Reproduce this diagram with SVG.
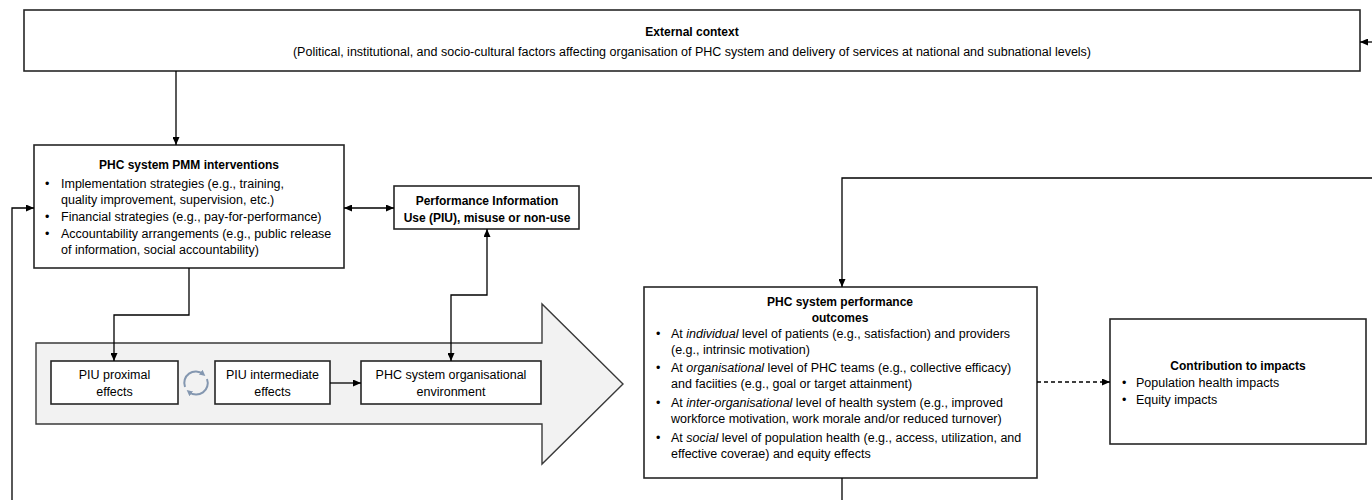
<svg xmlns="http://www.w3.org/2000/svg" width="1372" height="500" viewBox="0 0 1372 500">
<defs>
<style>
.box{fill:#fff;stroke:#262626;stroke-width:1.6}
.t{font-family:"Liberation Sans",Arial,sans-serif;font-size:12.5px;fill:#000}
.b{font-family:"Liberation Sans",Arial,sans-serif;font-size:12px;font-weight:bold;fill:#000}
.c{text-anchor:middle}
.ln{fill:none;stroke:#000;stroke-width:1.3}
.dash{stroke-dasharray:4,3}
.cyc{fill:none;stroke:#8497b0;stroke-width:2}
</style>
<marker id="ah" viewBox="0 0 8 7" markerWidth="8" markerHeight="7" refX="8" refY="3.5" orient="auto-start-reverse" markerUnits="userSpaceOnUse">
<path d="M0,0 L8,3.5 L0,7 z" fill="#000"/>
</marker>
<marker id="ch" viewBox="0 0 6 6" markerWidth="6" markerHeight="6" refX="3" refY="3" orient="auto" markerUnits="userSpaceOnUse">
<path d="M0,0 L6,3 L0,6 z" fill="#8497b0"/>
</marker>
</defs>

<g id="external-context">
<rect class="box" x="24" y="10" width="1336" height="61"/>
<text class="b c" x="692" y="36">External context</text>
<text class="t c" x="692" y="56">(Political, institutional, and socio-cultural factors affecting organisation of PHC system and delivery of services at national and subnational levels)</text>
</g>

<g id="pmm-interventions">
<rect class="box" x="34" y="145" width="310" height="123"/>
<text class="b c" x="189" y="168.5">PHC system PMM interventions</text>
<text class="t" x="45" y="187.5">•</text><text class="t" x="61" y="187.5">Implementation strategies (e.g., training,</text>
<text class="t" x="61" y="204">quality improvement, supervision, etc.)</text>
<text class="t" x="45" y="221">•</text><text class="t" x="61" y="221">Financial strategies (e.g., pay-for-performance)</text>
<text class="t" x="45" y="237.5">•</text><text class="t" x="61" y="237.5">Accountability arrangements (e.g., public release</text>
<text class="t" x="61" y="254">of information, social accountability)</text>
</g>

<g id="performance-information-use">
<rect class="box" x="394" y="186" width="185" height="43"/>
<text class="b c" x="487" y="204.5">Performance Information</text>
<text class="b c" x="487" y="221.5">Use (PIU), misuse or non-use</text>
</g>

<g id="big-arrow">
<polygon points="36,343 542,343 542,304 623,384 542,464 542,424 36,424" fill="#f2f2f2" stroke="#3a3a3a" stroke-width="1.4"/>
</g>

<g id="piu-proximal">
<rect class="box" x="51" y="361" width="127" height="43"/>
<text class="t c" x="114.5" y="378.5">PIU proximal</text>
<text class="t c" x="114.5" y="395.5">effects</text>
</g>

<g id="cycle-icon">
<path class="cyc" d="M185,387 A11.5,11.5 0 0 1 203,374" marker-end="url(#ch)"/>
<path class="cyc" d="M207,379 A11.5,11.5 0 0 1 189,392" marker-end="url(#ch)"/>
</g>

<g id="piu-intermediate">
<rect class="box" x="215" y="361" width="115" height="43"/>
<text class="t c" x="272.5" y="378.5">PIU intermediate</text>
<text class="t c" x="272.5" y="395.5">effects</text>
</g>

<g id="organisational-environment">
<rect class="box" x="361" y="361" width="180" height="43"/>
<text class="t c" x="451" y="378.5">PHC system organisational</text>
<text class="t c" x="451" y="396">environment</text>
</g>

<g id="performance-outcomes">
<rect class="box" x="644" y="287" width="393" height="191"/>
<text class="b c" x="840" y="305.5">PHC system performance</text>
<text class="b c" x="840" y="321.5">outcomes</text>
<text class="t" x="656" y="337.5">•</text><text class="t" x="671" y="337.5">At <tspan font-style="italic">individual</tspan> level of patients (e.g., satisfaction) and providers</text>
<text class="t" x="671" y="354">(e.g., intrinsic motivation)</text>
<text class="t" x="656" y="371.5">•</text><text class="t" x="671" y="371.5">At <tspan font-style="italic">organisational</tspan> level of PHC teams (e.g., collective efficacy)</text>
<text class="t" x="671" y="388">and faciities (e.g., goal or target attainment)</text>
<text class="t" x="656" y="406.5">•</text><text class="t" x="671" y="406.5">At <tspan font-style="italic">inter-organisational</tspan> level of health system (e.g., improved</text>
<text class="t" x="671" y="423">workforce motivation, work morale and/or reduced turnover)</text>
<text class="t" x="656" y="441.5">•</text><text class="t" x="671" y="441.5">At <tspan font-style="italic">social</tspan> level of population health (e.g., access, utilization, and</text>
<text class="t" x="671" y="458">effective coverae) and equity effects</text>
</g>

<g id="contribution-to-impacts">
<rect class="box" x="1110" y="319" width="256" height="125"/>
<text class="b c" x="1238" y="369.5">Contribution to impacts</text>
<text class="t" x="1122" y="386.5">•</text><text class="t" x="1136" y="386.5">Population health impacts</text>
<text class="t" x="1122" y="403.5">•</text><text class="t" x="1136" y="403.5">Equity impacts</text>
</g>

<g id="connectors">
<path class="ln" d="M176,71 V145" marker-end="url(#ah)"/>
<path class="ln" d="M1372,42 H1360" marker-end="url(#ah)"/>
<path class="ln" d="M12,500 V208 H34" marker-end="url(#ah)"/>
<path class="ln" d="M344,208 H394" marker-start="url(#ah)" marker-end="url(#ah)"/>
<path class="ln" d="M189,268 V315 H114 V361" marker-end="url(#ah)"/>
<path class="ln" d="M487,229 V295 H451 V361" marker-start="url(#ah)" marker-end="url(#ah)"/>
<path class="ln" d="M330,383 H361" marker-end="url(#ah)"/>
<path class="ln" d="M1372,178 H842 V287" marker-end="url(#ah)"/>
<path class="ln" d="M842,478 V500"/>
<path class="ln dash" d="M1037,382 H1110" marker-end="url(#ah)"/>
</g>
</svg>
